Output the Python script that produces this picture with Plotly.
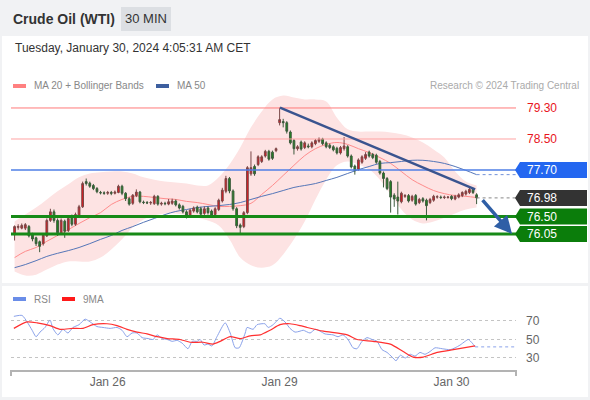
import plotly.graph_objects as go

W, H = 590, 400

# 30 min candles, index 1..130 (Jan 25 ~10:00 CET -> Jan 30 ~03:30 CET)
candle_idx = list(range(1, 131))
open_ = [
    76.03, 76.22, 76.20, 76.20, 76.24, 76.04, 75.95, 75.85, 75.80, 76.00,
    76.40, 76.62, 76.40, 76.08, 76.38, 76.14, 76.48, 76.30, 76.50, 76.75,
    77.40, 77.36, 77.30, 77.22, 77.12, 77.11, 77.10, 77.12, 77.10, 77.12,
    77.28, 77.10, 76.96, 76.84, 77.04, 77.13, 76.87, 76.86, 76.85, 76.83,
    77.02, 76.82, 76.84, 76.82, 76.84, 76.90, 76.80, 76.76, 76.62, 76.53,
    76.64, 76.74, 76.70, 76.58, 76.72, 76.64, 76.55, 76.68, 76.90, 77.15,
    77.48, 77.16, 76.70, 76.28, 76.24, 76.60, 77.60, 77.79, 77.84, 77.92,
    78.06, 78.18, 78.16, 78.20, 78.92, 78.95, 78.92, 78.68, 78.46, 78.25,
    78.42, 78.28, 78.32, 78.30, 78.38, 78.44, 78.50, 78.40, 78.34, 78.30,
    78.26, 78.14, 78.25, 78.30, 78.06, 77.80, 77.72, 77.90, 78.00, 78.16,
    78.10, 78.08, 77.92, 77.62, 77.48, 77.40, 77.05, 77.00, 76.88, 77.02,
    77.04, 76.92, 77.04, 76.86, 76.96, 76.92, 76.86, 76.92, 77.00, 77.00,
    76.99, 76.99, 77.02, 76.95, 77.00, 77.04, 77.08, 77.12, 77.20, 77.06,
]
high = [
    76.27, 76.30, 76.32, 76.33, 76.28, 76.08, 75.98, 75.88, 76.06, 76.45,
    76.70, 76.68, 76.45, 76.45, 76.42, 76.52, 76.55, 76.60, 76.80, 77.40,
    77.48, 77.40, 77.34, 77.26, 77.16, 77.15, 77.16, 77.16, 77.17, 77.32,
    77.32, 77.13, 77.00, 77.08, 77.20, 77.16, 76.91, 76.90, 76.90, 77.06,
    77.05, 76.88, 76.88, 76.95, 76.96, 76.94, 76.84, 76.80, 76.66, 76.70,
    76.76, 76.78, 76.75, 76.76, 76.76, 76.68, 76.74, 76.96, 77.24, 77.55,
    77.52, 77.20, 76.74, 76.32, 76.64, 77.80, 78.18, 77.84, 78.08, 78.08,
    78.22, 78.22, 78.20, 78.28, 79.31, 79.02, 78.96, 78.72, 78.50, 78.34,
    78.46, 78.44, 78.38, 78.44, 78.50, 78.54, 78.53, 78.44, 78.38, 78.34,
    78.30, 78.32, 78.55, 78.34, 78.10, 77.84, 78.00, 78.08, 78.16, 78.20,
    78.14, 78.12, 77.96, 77.66, 77.52, 77.44, 77.10, 77.40, 77.14, 77.08,
    77.08, 77.06, 77.08, 76.98, 77.00, 76.96, 76.98, 77.06, 77.05, 77.04,
    77.04, 77.03, 77.05, 77.06, 77.10, 77.15, 77.19, 77.24, 77.24, 77.10,
]
low = [
    75.88, 76.16, 76.17, 76.15, 75.96, 75.86, 75.74, 75.58, 75.75, 75.97,
    76.36, 76.34, 76.00, 76.04, 75.95, 76.10, 76.25, 76.26, 76.46, 76.72,
    77.30, 77.24, 77.18, 77.10, 77.07, 77.06, 77.06, 77.05, 77.07, 77.10,
    77.05, 76.90, 76.78, 76.80, 77.00, 76.84, 76.82, 76.82, 76.80, 76.80,
    76.78, 76.78, 76.79, 76.79, 76.80, 76.76, 76.68, 76.58, 76.45, 76.50,
    76.60, 76.58, 76.52, 76.54, 76.55, 76.48, 76.50, 76.64, 76.86, 77.10,
    77.10, 76.65, 76.20, 76.04, 76.20, 76.56, 77.55, 77.55, 77.80, 77.88,
    78.02, 77.94, 77.96, 78.16, 78.85, 78.80, 78.64, 78.36, 78.10, 78.20,
    78.20, 78.24, 78.26, 78.26, 78.34, 78.40, 78.34, 78.26, 78.24, 78.18,
    78.10, 78.10, 78.20, 78.02, 77.74, 77.58, 77.68, 77.86, 77.96, 78.02,
    77.98, 77.86, 77.58, 77.25, 77.18, 76.60, 76.75, 76.55, 76.84, 76.98,
    76.86, 76.88, 76.78, 76.82, 76.86, 76.40, 76.82, 76.88, 76.96, 76.95,
    76.95, 76.96, 76.92, 76.92, 76.97, 77.00, 77.04, 77.08, 77.08, 76.82,
]
close = [
    76.24, 76.24, 76.27, 76.29, 76.00, 75.92, 75.80, 75.73, 76.02, 76.40,
    76.62, 76.40, 76.08, 76.40, 76.12, 76.45, 76.30, 76.55, 76.75, 77.35,
    77.35, 77.28, 77.22, 77.14, 77.11, 77.10, 77.12, 77.10, 77.13, 77.28,
    77.10, 76.96, 76.82, 77.05, 77.13, 76.88, 76.86, 76.85, 76.86, 77.02,
    76.82, 76.84, 76.83, 76.88, 76.90, 76.80, 76.72, 76.62, 76.52, 76.66,
    76.72, 76.62, 76.56, 76.70, 76.60, 76.52, 76.70, 76.92, 77.18, 77.48,
    77.16, 76.70, 76.26, 76.22, 76.60, 77.76, 77.76, 77.60, 78.04, 78.04,
    78.18, 77.98, 78.00, 78.25, 79.00, 78.92, 78.70, 78.40, 78.25, 78.30,
    78.24, 78.40, 78.30, 78.40, 78.46, 78.50, 78.38, 78.30, 78.28, 78.22,
    78.14, 78.28, 78.32, 78.06, 77.78, 77.68, 77.96, 78.04, 78.10, 78.06,
    78.02, 77.90, 77.62, 77.48, 77.22, 77.00, 76.95, 76.90, 77.10, 77.04,
    76.90, 77.02, 76.82, 76.94, 76.90, 76.78, 76.94, 77.02, 77.01, 76.99,
    77.00, 77.00, 76.96, 77.02, 77.06, 77.12, 77.15, 77.20, 77.12, 76.98,
]

# indicator readings, sampled every third candle
band_idx = [1, 4, 7, 10, 13, 16, 19, 22, 25, 28, 31, 34, 37, 40, 43, 46, 49, 52, 55, 58, 61, 64,
            67, 70, 73, 76, 79, 82, 85, 88, 91, 94, 97, 100, 103, 106, 109, 112, 115, 118, 121, 124, 127, 130]
bb_upper = [76.37, 76.55, 76.73, 76.94, 77.15, 77.33, 77.51, 77.61, 77.64, 77.66, 77.66, 77.61, 77.51,
            77.45, 77.40, 77.38, 77.35, 77.30, 77.30, 77.51, 77.84, 78.28, 78.80, 79.21, 79.52, 79.62,
            79.57, 79.52, 79.52, 79.47, 79.05, 78.75, 78.69, 78.69, 78.69, 78.67, 78.62, 78.54, 78.41,
            78.23, 78.02, 77.66, 77.40, 77.30]
bb_lower = [75.08, 74.98, 75.00, 75.13, 75.26, 75.34, 75.34, 75.34, 75.44, 75.65, 75.91, 76.22, 76.42,
            76.53, 76.58, 76.58, 76.53, 76.47, 76.40, 76.27, 75.91, 75.44, 75.24, 75.18, 75.24, 75.52,
            75.91, 76.37, 76.94, 77.45, 77.82, 77.92, 77.84, 77.71, 77.45, 77.07, 76.68, 76.42, 76.32,
            76.37, 76.47, 76.58, 76.68, 76.73]
ma20 = [75.44, 75.60, 75.70, 75.86, 76.01, 76.16, 76.32, 76.47, 76.60, 76.81, 76.94, 77.02, 77.02,
        76.99, 76.96, 76.94, 76.89, 76.86, 76.81, 76.76, 76.76, 76.78, 76.84, 77.07, 77.30, 77.56,
        77.82, 78.07, 78.25, 78.36, 78.41, 78.36, 78.25, 78.15, 78.02, 77.87, 77.66, 77.45, 77.30,
        77.17, 77.09, 77.04, 77.02, 76.99]
ma50 = [75.18, 75.26, 75.36, 75.47, 75.55, 75.62, 75.70, 75.80, 75.91, 76.01, 76.14, 76.24, 76.35,
        76.45, 76.55, 76.63, 76.68, 76.73, 76.76, 76.78, 76.81, 76.86, 76.94, 77.02, 77.09, 77.17,
        77.25, 77.30, 77.35, 77.43, 77.51, 77.61, 77.71, 77.79, 77.87, 77.89, 77.92, 77.95, 77.95,
        77.92, 77.87, 77.79, 77.69, 77.58]

rsi_idx = [0.8, 3.1, 4.5, 5.9, 7.0, 8.1, 9.5, 10.9, 11.7, 13.1, 14.5, 15.9, 17.3, 19.0, 20.7, 22.1,
           24.0, 25.7, 27.7, 29.6, 31.0, 32.4, 33.8, 35.2, 36.6, 38.3, 39.7, 40.8, 42.2, 43.6, 45.0,
           46.4, 47.8, 49.4, 50.6, 52.0, 52.8, 53.9, 55.0, 56.1, 57.5, 59.8, 61.2, 62.6, 63.7, 65.4,
           65.9, 67.6, 68.7, 70.9, 71.8, 73.2, 75.1, 76.5, 77.9, 79.3, 80.7, 81.6, 83.5, 84.9, 86.3,
           87.7, 89.9, 91.3, 92.7, 94.1, 95.5, 96.6, 98.0, 99.4, 100.8, 102.2, 103.6, 105.0, 106.4,
           107.5, 108.7, 110.1, 111.5, 112.8, 114.2, 115.6, 117.0, 118.4, 120.4, 122.6, 124.0, 125.4,
           126.8, 127.7, 128.8, 129.6]
rsi = [75, 76, 69, 60, 53, 58, 63, 71, 62, 55, 61, 57, 63, 66, 72, 69, 64, 63, 62, 63, 60, 53, 57,
       57, 52, 51, 50, 55, 51, 50, 48, 49, 46, 40, 48, 48, 50, 44, 45, 43, 53, 68, 57, 41, 41, 57,
       63, 61, 66, 67, 63, 66, 73, 69, 62, 58, 59, 60, 57, 61, 59, 56, 55, 53, 55, 50, 41, 40, 48,
       52, 50, 48, 39, 36, 31, 27, 33, 30, 34, 32, 36, 34, 37, 41, 40, 39, 41, 44, 48, 50, 46, 42]
rsi_ma_idx = [0.8, 4.5, 7.3, 10.9, 13.7, 17.3, 20.1, 22.9, 26.8, 29.6, 32.4, 35.2, 38.0, 40.8, 43.6,
              47.2, 50.0, 53.6, 56.4, 58.4, 61.2, 64.0, 66.8, 69.6, 72.3, 75.1, 77.9, 80.7, 82.7, 87.2,
              93.9, 96.6, 101.1, 105.9, 109.5, 112.3, 115.1, 119.0, 123.5, 129.6]
rsi_ma = [62, 69, 68, 65, 61, 62, 62, 66, 67, 65, 61, 58, 56, 53, 51, 50, 47, 47, 45, 48, 53, 51, 54,
          55, 60, 66, 67, 65, 63, 59, 55, 50, 48, 45, 37, 31, 31, 36, 39, 43]

resistance = [79.30, 78.50]
pivot = 77.70
last_price = 76.98
supports = [76.50, 76.05]
trend_start = (75.1, 79.31)
trend_end = (129.6, 77.20)
target = (131.3, 76.96, 139.9, 76.05)
day_ticks = [27, 75, 123]
day_labels = ["Jan 26", "Jan 29", "Jan 30"]
x_range = [0, 141]
y_range = [74.81, 79.635]

FONT = "Liberation Sans, Arial, sans-serif"


def px(x):
    return x / W


def py(y):
    return 1 - y / H


fig = go.Figure()

# bollinger band fill + moving averages (base price axes)
fig.add_trace(go.Scatter(x=band_idx, y=bb_upper, mode="lines", line=dict(width=0, shape="spline"),
                         hoverinfo="skip", showlegend=False))
fig.add_trace(go.Scatter(x=band_idx, y=bb_lower, mode="lines", line=dict(width=0, shape="spline"),
                         fill="tonexty", fillcolor="#fde3e3", hoverinfo="skip", showlegend=False))
fig.add_trace(go.Scatter(x=band_idx, y=ma20, mode="lines", line=dict(color="#ff8c8c", width=1, shape="spline"),
                         showlegend=False))
fig.add_trace(go.Scatter(x=band_idx, y=ma50, mode="lines", line=dict(color="#5576b8", width=1, shape="spline"),
                         showlegend=False))

# candles on an overlaid axis pair so they sit above the band
fig.add_trace(go.Candlestick(
    x=candle_idx, open=open_, high=high, low=low, close=close, xaxis="x3", yaxis="y3",
    increasing=dict(line=dict(color="#7a4848", width=1), fillcolor="#e3161d"),
    decreasing=dict(line=dict(color="#3d5a3d", width=1), fillcolor="#1d8a1d"),
    whiskerwidth=0, showlegend=False,
))

# RSI panel
fig.add_trace(go.Scatter(x=rsi_idx, y=rsi, mode="lines", xaxis="x2", yaxis="y2",
                         line=dict(color="#8aa2ea", width=1, shape="spline", smoothing=0.6), showlegend=False))
fig.add_trace(go.Scatter(x=rsi_ma_idx, y=rsi_ma, mode="lines", xaxis="x2", yaxis="y2",
                         line=dict(color="#ff3030", width=1.2, shape="spline", smoothing=0.6), showlegend=False))

shapes = []
# page cards
shapes.append(dict(type="rect", xref="paper", yref="paper", x0=px(2), x1=px(588), y0=py(283), y1=py(36),
                   fillcolor="white", line=dict(width=0), layer="below"))
shapes.append(dict(type="rect", xref="paper", yref="paper", x0=px(2), x1=px(588), y0=py(397), y1=py(286),
                   fillcolor="white", line=dict(width=0), layer="below"))
shapes.append(dict(type="rect", xref="paper", yref="paper", x0=px(121), x1=px(171), y0=py(31), y1=py(7),
                   fillcolor="#dcdfe3", line=dict(width=0), layer="below"))
# legend swatches
for x0, y0, col in [(13, 86, "#ff8080"), (156, 86, "#3d5f9f"), (13, 299, "#6a8de8"), (62, 299, "#ff1a1a")]:
    shapes.append(dict(type="rect", xref="paper", yref="paper", x0=px(x0), x1=px(x0 + 13),
                       y0=py(y0 + 2), y1=py(y0 - 2), fillcolor=col, line=dict(width=0)))

# key levels
level_cols = {79.30: "#ff7a7a", 78.50: "#ffa3a3"}
for lv in resistance:
    shapes.append(dict(type="line", xref="x domain", yref="y", x0=0, x1=1, y0=lv, y1=lv,
                       line=dict(color=level_cols[lv], width=1)))
shapes.append(dict(type="line", xref="x domain", yref="y", x0=0, x1=1, y0=pivot, y1=pivot,
                   line=dict(color="#4f7fe6", width=1.5)))
for lv in supports:
    shapes.append(dict(type="line", xref="x domain", yref="y", x0=0, x1=1, y0=lv, y1=lv,
                       line=dict(color="#178a17", width=3)))
# dotted extensions after last candle
shapes.append(dict(type="line", xref="x", yref="y", x0=candle_idx[-1], x1=x_range[1], y0=last_price,
                   y1=last_price, line=dict(color="#888", width=1, dash="dot")))
shapes.append(dict(type="line", xref="x", yref="y", x0=band_idx[-1], x1=x_range[1], y0=ma50[-1],
                   y1=ma50[-1], line=dict(color="#7190d8", width=1, dash="dot")))
shapes.append(dict(type="line", xref="x2", yref="y2", x0=rsi_idx[-1], x1=x_range[1], y0=rsi[-1],
                   y1=rsi[-1], line=dict(color="#8aa2ea", width=1, dash="dot")))
# trendline
shapes.append(dict(type="line", xref="x", yref="y", x0=trend_start[0], y0=trend_start[1],
                   x1=trend_end[0], y1=trend_end[1], line=dict(color="#3a548f", width=2.5)))
# axis end ticks
for xe in [11, 516]:
    shapes.append(dict(type="line", xref="paper", yref="paper", x0=px(xe), x1=px(xe), y0=py(370), y1=py(376),
                       line=dict(color="#b3b3b3", width=2)))

# right-hand price tags
tags = [(pivot, "#2467f0"), (last_price, "#333333"), (supports[0], "#0b7d0b"), (supports[1], "#0b7d0b")]
for lv, col in tags:
    shapes.append(dict(type="path", xref="paper", yref="y", xsizemode="pixel", ysizemode="pixel",
                       xanchor=px(515), yanchor=lv, path="M0,0 L5,8 L72,8 L72,-8 L5,-8 Z",
                       fillcolor=col, line=dict(width=0)))

annotations = [
    dict(text="<b>Crude Oil (WTI)</b>", x=px(11), y=py(19), font=dict(size=14, color="#333")),
    dict(text="30 MIN", x=px(146), y=py(19), xanchor="center", font=dict(size=13, color="#333")),
    dict(text="Tuesday, January 30, 2024 4:05:31 AM CET", x=px(13), y=py(48), font=dict(size=12, color="#333")),
    dict(text="MA 20 + Bollinger Bands", x=px(32), y=py(86), font=dict(size=10, color="#888")),
    dict(text="MA 50", x=px(175), y=py(86), font=dict(size=10, color="#888")),
    dict(text="RSI", x=px(32), y=py(299), font=dict(size=10, color="#888")),
    dict(text="9MA", x=px(81), y=py(299), font=dict(size=10, color="#888")),
    dict(text="Research © 2024 Trading Central", x=px(581), y=py(86), xanchor="right",
         font=dict(size=10, color="#aaa")),
]
for lv in resistance:
    annotations.append(dict(text=f"{lv:.2f}", x=px(525), y=lv, yref="y", font=dict(size=12, color="#e8141c")))
for lv, col in tags:
    annotations.append(dict(text=f"{lv:.2f}", x=px(525), y=lv, yref="y", font=dict(size=12, color="white")))
for a in annotations:
    a.setdefault("xref", "paper")
    a.setdefault("yref", "paper")
    a.setdefault("xanchor", "left")
    a["yanchor"] = "middle"
    a["showarrow"] = False

# forecast arrow
annotations.append(dict(x=target[2], y=target[3], ax=target[0], ay=target[1], xref="x", yref="y",
                        axref="x", ayref="y", text="", showarrow=True, arrowhead=2, arrowsize=1,
                        arrowwidth=3.5, arrowcolor="#2f5fa6"))

fig.update_layout(
    width=W, height=H,
    margin=dict(l=0, r=0, t=0, b=0),
    paper_bgcolor="#f1f2f4",
    plot_bgcolor="rgba(0,0,0,0)",
    font=dict(family=FONT, color="#333"),
    showlegend=False,
    xaxis=dict(domain=[px(11), px(516)], range=x_range, visible=False, anchor="y"),
    yaxis=dict(domain=[py(282), py(95)], range=y_range, visible=False, anchor="x"),
    xaxis3=dict(overlaying="x", range=x_range, visible=False, anchor="y3",
                rangeslider=dict(visible=False)),
    yaxis3=dict(overlaying="y", range=y_range, visible=False, anchor="x3"),
    xaxis2=dict(domain=[px(11), px(516)], range=x_range, anchor="y2", showline=True, linecolor="#b3b3b3",
                linewidth=2, showgrid=False, zeroline=False, tickvals=day_ticks, ticktext=day_labels,
                tickfont=dict(size=12, color="#666"), ticks=""),
    yaxis2=dict(domain=[py(370), py(300)], range=[17, 92.7], anchor="x2", side="right", tickvals=[30, 50, 70],
                showgrid=True, gridcolor="#c4c4c4", griddash="dot", zeroline=False, ticks="",
                ticklabelstandoff=9, tickfont=dict(size=12, color="#666")),
    shapes=shapes,
    annotations=annotations,
)

fig.write_html("out.html", config={"displayModeBar": False},
               post_script="document.body.style.margin='0';")
